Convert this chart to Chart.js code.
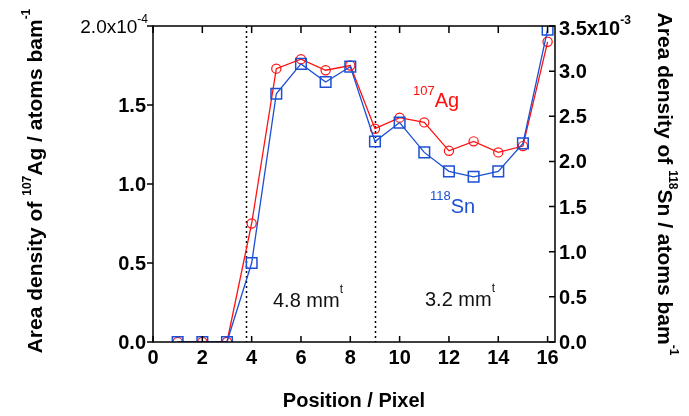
<!DOCTYPE html>
<html>
<head>
<meta charset="utf-8">
<script src="https://cdn.jsdelivr.net/npm/chart.js@4.4.1/dist/chart.umd.min.js"></script>
<style>
  html, body { margin: 0; padding: 0; background: #fff; }
  #wrap { width: 689px; height: 416px; }
</style>
</head>
<body>
<div id="wrap"><canvas id="chart" width="689" height="416"></canvas></div>
<script>
// data
const positions = [1, 2, 3, 4, 5, 6, 7, 8, 9, 10, 11, 12, 13, 14, 15, 16];
const ag107 = [0, 0, 0, 0.75e-4, 1.73e-4, 1.79e-4, 1.72e-4, 1.75e-4, 1.35e-4, 1.42e-4, 1.39e-4, 1.21e-4, 1.27e-4, 1.20e-4, 1.24e-4, 1.90e-4];
const sn118 = [0, 0, 0, 0.875e-3, 2.75e-3, 3.08e-3, 2.88e-3, 3.05e-3, 2.22e-3, 2.43e-3, 2.10e-3, 1.89e-3, 1.83e-3, 1.89e-3, 2.20e-3, 3.46e-3];

// tick labels
const xTicks = [0, 2, 4, 6, 8, 10, 12, 14, 16];
const leftTicks = [0, 0.5e-4, 1.0e-4, 1.5e-4, 2.0e-4];
const leftLabels = ['0.0', '0.5', '1.0', '1.5', '2.0x10'];
const rightTicks = [0, 0.5e-3, 1.0e-3, 1.5e-3, 2.0e-3, 2.5e-3, 3.0e-3, 3.5e-3];
const rightLabels = ['0.0', '0.5', '1.0', '1.5', '2.0', '2.5', '3.0', '3.5x10'];

// region borders (dotted lines)
const dividers = [3.77, 9.0];

const RED = '#ff1010';
const BLUE = '#1b4fd4';
const FONT = '"Liberation Sans", Arial, sans-serif';

function runs(ctx, parts, x, y, align) {
    // parts: [text, font, dy]
    let total = 0;
    parts.forEach(p => { ctx.font = p[1]; total += ctx.measureText(p[0]).width; });
    let cx = x;
    if (align === 'center') cx = x - total / 2;
    if (align === 'right') cx = x - total;
    parts.forEach(p => {
        ctx.font = p[1];
        ctx.fillText(p[0], cx, y + p[2]);
        cx += ctx.measureText(p[0]).width;
    });
}

const decor = {
    id: 'decor',
    beforeDatasetsDraw(chart) {
        const { ctx, chartArea: a, scales } = chart;
        ctx.save();
        ctx.strokeStyle = '#000';
        ctx.lineWidth = 1.5;
        ctx.setLineDash([2, 3]);
        dividers.forEach(d => {
            const px = Math.round(scales.x.getPixelForValue(d)) + 0.5;
            ctx.beginPath();
            ctx.moveTo(px, a.top);
            ctx.lineTo(px, a.bottom);
            ctx.stroke();
        });
        ctx.restore();
    },
    afterDraw(chart) {
        const { ctx, chartArea: a, scales } = chart;
        const x = scales.x, yl = scales.y, yr = scales.y2;
        ctx.save();
        ctx.strokeStyle = '#000';
        ctx.lineWidth = 1.5;
        ctx.strokeRect(a.left, a.top, a.right - a.left, a.bottom - a.top);

        // tick marks
        ctx.beginPath();
        xTicks.forEach(t => {
            const px = x.getPixelForValue(t);
            ctx.moveTo(px, a.bottom); ctx.lineTo(px, a.bottom - 6);
            ctx.moveTo(px, a.top); ctx.lineTo(px, a.top + 7);
        });
        leftTicks.forEach(t => {
            const py = yl.getPixelForValue(t);
            ctx.moveTo(a.left, py); ctx.lineTo(a.left - 6, py);
        });
        rightTicks.forEach(t => {
            const py = yr.getPixelForValue(t);
            ctx.moveTo(a.right, py); ctx.lineTo(a.right - 6, py);
        });
        ctx.stroke();

        // tick labels
        ctx.fillStyle = '#000';
        ctx.textBaseline = 'alphabetic';
        ctx.textAlign = 'left';
        xTicks.forEach(t => {
            runs(ctx, [[String(t), 'bold 20px ' + FONT, 0]], x.getPixelForValue(t), a.bottom + 22, 'center');
        });
        leftTicks.forEach((t, i) => {
            const py = yl.getPixelForValue(t);
            if (i === leftTicks.length - 1) {
                runs(ctx, [[leftLabels[i], '19px ' + FONT, 0], ['-4', '12px ' + FONT, -10]], a.left - 5, py + 7, 'right');
            } else {
                runs(ctx, [[leftLabels[i], 'bold 20px ' + FONT, 0]], a.left - 7, py + 7, 'right');
            }
        });
        rightTicks.forEach((t, i) => {
            const py = yr.getPixelForValue(t);
            if (i === rightTicks.length - 1) {
                runs(ctx, [[rightLabels[i], 'bold 20px ' + FONT, 0], ['-3', 'bold 12px ' + FONT, -11]], a.right + 4, py + 9, 'left');
            } else {
                runs(ctx, [[rightLabels[i], 'bold 20px ' + FONT, 0]], a.right + 4, py + 7, 'left');
            }
        });

        // axis titles
        runs(ctx, [['Position / Pixel', 'bold 20px ' + FONT, 0]], (a.left + a.right) / 2, 407, 'center');

        ctx.save();
        ctx.translate(42, 181);
        ctx.rotate(-Math.PI / 2);
        runs(ctx, [['Area density of ', 'bold 21px ' + FONT, 0], ['107', 'bold 12px ' + FONT, -11],
            ['Ag / atoms bam', 'bold 21px ' + FONT, 0], ['-1', 'bold 12px ' + FONT, -12]], 0, 0, 'center');
        ctx.restore();

        ctx.save();
        ctx.translate(658, 184);
        ctx.rotate(Math.PI / 2);
        runs(ctx, [['Area density of ', 'bold 21px ' + FONT, 0], ['118', 'bold 12px ' + FONT, -11],
            ['Sn / atoms bam', 'bold 21px ' + FONT, 0], ['-1', 'bold 12px ' + FONT, -12]], 0, 0, 'center');
        ctx.restore();

        // annotations
        ctx.fillStyle = '#111';
        runs(ctx, [['4.8 mm', '20px ' + FONT, 0], ['t', '12px ' + FONT, -14]], 273, 307, 'left');
        runs(ctx, [['3.2 mm', '20px ' + FONT, 0], ['t', '12px ' + FONT, -14]], 425, 306, 'left');
        ctx.fillStyle = RED;
        runs(ctx, [['107', '13px ' + FONT, -12], ['Ag', '20px ' + FONT, 0]], 413, 107, 'left');
        ctx.fillStyle = BLUE;
        runs(ctx, [['118', '13px ' + FONT, -13], ['Sn', '20px ' + FONT, 0]], 430, 213, 'left');
        ctx.restore();
    }
};

const fixW = w => scale => { scale.width = w; };

new Chart(document.getElementById('chart'), {
    type: 'line',
    data: {
        datasets: [{
            label: '107Ag',
            data: positions.map((p, i) => ({ x: p, y: ag107[i] })),
            yAxisID: 'y',
            borderColor: RED,
            borderWidth: 1.3,
            pointStyle: 'circle',
            pointRadius: 4.6,
            pointBorderColor: RED,
            pointBackgroundColor: 'rgba(0,0,0,0)',
            pointBorderWidth: 1.2,
            tension: 0,
            order: 2
        }, {
            label: '118Sn',
            data: positions.map((p, i) => ({ x: p, y: sn118[i] })),
            yAxisID: 'y2',
            borderColor: BLUE,
            borderWidth: 1.3,
            pointStyle: 'rect',
            pointRadius: 7.5,
            pointBorderColor: BLUE,
            pointBackgroundColor: 'rgba(0,0,0,0)',
            pointBorderWidth: 1.5,
            tension: 0,
            order: 1
        }]
    },
    options: {
        responsive: false,
        animation: false,
        devicePixelRatio: 1,
        layout: { padding: { top: 26, left: 0, right: 0, bottom: 0 } },
        plugins: { legend: { display: false }, tooltip: { enabled: false } },
        scales: {
            x: {
                type: 'linear', min: 0, max: 16.3,
                ticks: { display: false }, grid: { display: false }, border: { display: false },
                afterFit: scale => { scale.height = 74; }
            },
            y: {
                position: 'left', min: 0, max: 2.0e-4,
                ticks: { display: false }, grid: { display: false }, border: { display: false },
                afterFit: fixW(153)
            },
            y2: {
                position: 'right', min: 0, max: 3.5e-3,
                ticks: { display: false }, grid: { display: false }, border: { display: false },
                afterFit: fixW(134)
            }
        }
    },
    plugins: [decor]
});
</script>
</body>
</html>
